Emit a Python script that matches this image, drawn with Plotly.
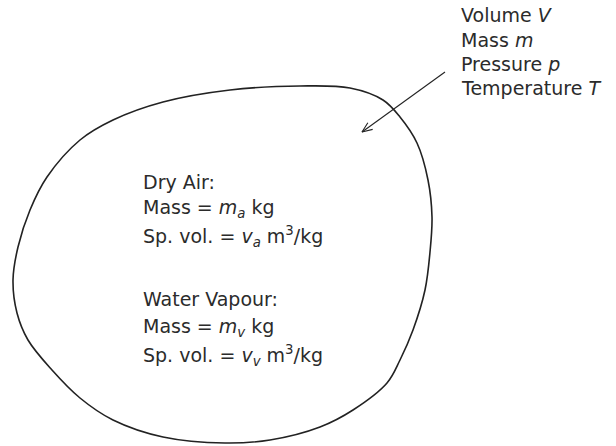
import numpy as np
import plotly.graph_objects as go

# Outline of the control volume (pixel-like coordinates, y downward)
blob_x = [230, 300, 350, 383, 400, 417, 428, 432, 430, 425, 413, 400, 387, 353, 320, 270, 225,
          163, 113, 80, 52, 28, 17, 13, 18, 30, 47, 80, 113, 163, 230]
blob_y = [90, 86, 88, 100, 117, 143, 180, 217, 252, 290, 330, 360, 383, 410, 427, 440, 443,
          437, 420, 398, 370, 340, 313, 280, 247, 210, 177, 140, 120, 102, 90]

# Arrow from label to region
arrow_x = [445, 362]
arrow_y = [72, 132]

# Property labels (right)
prop_labels = ["Volume <i>V</i>", "Mass <i>m</i>", "Pressure <i>p</i>", "Temperature <i>T</i>"]
prop_baselines = [23, 47.5, 72, 96]

# Content labels (inside)
content_labels = ["Dry Air:",
                  "Mass = <i>m</i><sub><i>a</i></sub> kg",
                  "Sp. vol. = <i>v</i><sub><i>a</i></sub> m<sup>3</sup>/kg",
                  "Water Vapour:",
                  "Mass = <i>m</i><sub><i>v</i></sub> kg",
                  "Sp. vol. = <i>v</i><sub><i>v</i></sub> m<sup>3</sup>/kg"]
content_baselines = [190, 218, 247, 307, 337, 366]

LINE = "#222222"
TEXT = "#2b2b2b"
FONT = "DejaVu Sans"
FS = 19

fig = go.Figure()
fig.add_trace(go.Scatter(x=blob_x, y=blob_y, mode="lines",
                         line=dict(color=LINE, width=1.6, shape="spline", smoothing=1.0),
                         hoverinfo="skip", showlegend=False))

# arrow shaft and open head
tip = np.array([arrow_x[1], arrow_y[1]], dtype=float)
start = np.array([arrow_x[0], arrow_y[0]], dtype=float)
d = (start - tip) / np.linalg.norm(start - tip)
head_len = 11
ang = np.deg2rad(22)
rot = lambda v, a: np.array([v[0]*np.cos(a) - v[1]*np.sin(a), v[0]*np.sin(a) + v[1]*np.cos(a)])
b1 = tip + head_len * rot(d, ang)
b2 = tip + head_len * rot(d, -ang)
fig.add_trace(go.Scatter(x=[start[0], tip[0], None, b1[0], tip[0], b2[0]],
                         y=[start[1], tip[1], None, b1[1], tip[1], b2[1]],
                         mode="lines", line=dict(color=LINE, width=1.1),
                         hoverinfo="skip", showlegend=False))

def add_line(txt, x, baseline):
    fig.add_annotation(x=x, y=baseline + 4, text=txt, showarrow=False,
                       xanchor="left", yanchor="bottom", xref="x", yref="y",
                       font=dict(family=FONT, size=FS, color=TEXT), borderpad=0)

for t, b in zip(prop_labels, prop_baselines):
    add_line(t, 460, b)
for t, b in zip(content_labels, content_baselines):
    add_line(t, 142, b)

W, H = 616, 446
fig.update_xaxes(range=[0, W], visible=False, fixedrange=True)
fig.update_yaxes(range=[H, 0], visible=False, fixedrange=True)
fig.update_layout(width=W, height=H,
                  margin=dict(l=0, r=0, t=0, b=0),
                  paper_bgcolor="white", plot_bgcolor="white")
fig.write_html("out.html",
               config={"displayModeBar": False, "staticPlot": True},
               post_script="document.body.style.margin='0';document.body.style.overflow='hidden';")
